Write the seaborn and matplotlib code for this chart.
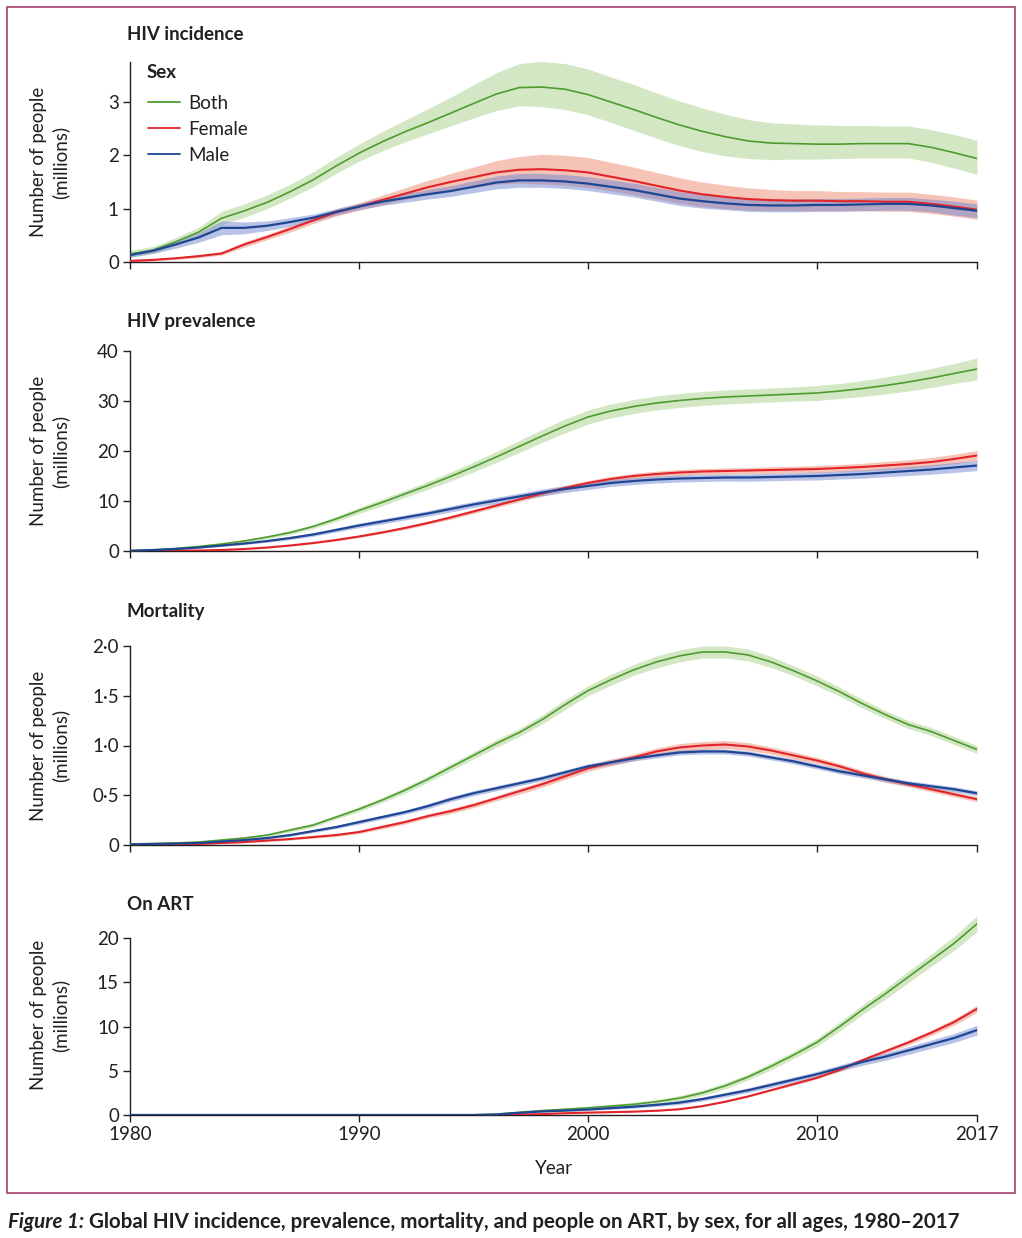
import matplotlib
matplotlib.use("Agg")
import matplotlib.pyplot as plt
import seaborn as sns
from matplotlib.ticker import FuncFormatter, FixedLocator
from matplotlib.patches import Rectangle

# ---------------- data (millions) ----------------
years = list(range(1980, 2018))

# HIV incidence
inc_both = [0.15, 0.22, 0.38, 0.56, 0.82, 0.96, 1.12, 1.32, 1.54, 1.80,
            2.04, 2.25, 2.44, 2.61, 2.79, 2.97, 3.15, 3.27, 3.28, 3.24,
            3.14, 3.00, 2.86, 2.71, 2.57, 2.45, 2.35, 2.27, 2.23, 2.22,
            2.21, 2.21, 2.22, 2.22, 2.22, 2.15, 2.05, 1.94]
inc_both_up = [0.07, 0.07, 0.08, 0.09, 0.13, 0.13, 0.14, 0.14, 0.15, 0.16,
               0.17, 0.19, 0.22, 0.26, 0.30, 0.35, 0.40, 0.45, 0.48, 0.48,
               0.48, 0.47, 0.47, 0.46, 0.45, 0.44, 0.42, 0.40, 0.38, 0.37,
               0.36, 0.35, 0.34, 0.33, 0.33, 0.33, 0.34, 0.34]
inc_both_dn = [0.06, 0.06, 0.07, 0.08, 0.12, 0.12, 0.12, 0.12, 0.13, 0.14,
               0.15, 0.17, 0.19, 0.21, 0.24, 0.27, 0.31, 0.34, 0.37, 0.38,
               0.38, 0.38, 0.39, 0.39, 0.39, 0.38, 0.36, 0.33, 0.31, 0.29,
               0.28, 0.27, 0.27, 0.27, 0.27, 0.28, 0.29, 0.30]
inc_female = [0.02, 0.04, 0.07, 0.11, 0.16, 0.33, 0.47, 0.62, 0.78, 0.93,
              1.04, 1.16, 1.28, 1.40, 1.50, 1.59, 1.68, 1.73, 1.74, 1.72,
              1.68, 1.60, 1.52, 1.43, 1.34, 1.27, 1.22, 1.18, 1.16, 1.15,
              1.15, 1.14, 1.14, 1.13, 1.13, 1.09, 1.04, 0.98]
inc_female_err = [0.02, 0.02, 0.02, 0.03, 0.03, 0.05, 0.05, 0.06, 0.06, 0.07,
                  0.07, 0.09, 0.11, 0.13, 0.16, 0.19, 0.22, 0.25, 0.28, 0.28,
                  0.28, 0.27, 0.26, 0.25, 0.24, 0.23, 0.22, 0.21, 0.20, 0.19,
                  0.19, 0.18, 0.18, 0.18, 0.18, 0.18, 0.18, 0.18]
inc_male = [0.13, 0.21, 0.33, 0.46, 0.64, 0.64, 0.68, 0.75, 0.83, 0.94,
            1.04, 1.13, 1.20, 1.27, 1.33, 1.41, 1.49, 1.53, 1.53, 1.51,
            1.47, 1.41, 1.35, 1.27, 1.19, 1.14, 1.10, 1.07, 1.06, 1.06,
            1.07, 1.07, 1.08, 1.09, 1.09, 1.06, 1.01, 0.96]
inc_male_err = [0.04, 0.05, 0.07, 0.09, 0.13, 0.11, 0.09, 0.08, 0.07, 0.06,
                0.06, 0.07, 0.08, 0.09, 0.10, 0.11, 0.12, 0.13, 0.13, 0.13,
                0.13, 0.13, 0.13, 0.13, 0.13, 0.13, 0.12, 0.12, 0.12, 0.12,
                0.12, 0.12, 0.12, 0.12, 0.12, 0.12, 0.13, 0.13]

# HIV prevalence
prev_both = [0.05, 0.2, 0.5, 0.9, 1.4, 2.0, 2.8, 3.7, 4.9, 6.4,
             8.1, 9.7, 11.4, 13.1, 14.9, 16.8, 18.8, 20.9, 23.0, 25.0,
             26.8, 28.0, 28.9, 29.6, 30.1, 30.5, 30.8, 31.0, 31.2, 31.4,
             31.6, 32.0, 32.5, 33.1, 33.8, 34.6, 35.5, 36.4]
prev_both_err = [0.05, 0.1, 0.1, 0.2, 0.2, 0.3, 0.3, 0.4, 0.4, 0.5,
                 0.6, 0.7, 0.7, 0.8, 0.9, 1.0, 1.1, 1.2, 1.3, 1.4,
                 1.4, 1.4, 1.4, 1.4, 1.4, 1.4, 1.4, 1.4, 1.4, 1.4,
                 1.5, 1.5, 1.6, 1.7, 1.8, 1.9, 2.0, 2.2]
prev_female = [0.0, 0.02, 0.05, 0.1, 0.2, 0.4, 0.7, 1.1, 1.6, 2.2,
               2.9, 3.7, 4.6, 5.6, 6.7, 7.9, 9.1, 10.3, 11.5, 12.6,
               13.6, 14.4, 15.0, 15.4, 15.7, 15.9, 16.0, 16.1, 16.2, 16.3,
               16.4, 16.6, 16.8, 17.1, 17.4, 17.8, 18.4, 19.1]
prev_female_err = [0.0, 0.02, 0.03, 0.05, 0.05, 0.1, 0.1, 0.1, 0.15, 0.2,
                   0.2, 0.25, 0.3, 0.3, 0.35, 0.4, 0.4, 0.45, 0.5, 0.5,
                   0.5, 0.5, 0.55, 0.55, 0.6, 0.6, 0.6, 0.6, 0.65, 0.65,
                   0.7, 0.7, 0.75, 0.8, 0.85, 0.9, 0.95, 1.0]
prev_male = [0.05, 0.2, 0.4, 0.7, 1.1, 1.5, 2.0, 2.6, 3.3, 4.2,
             5.1, 5.9, 6.7, 7.5, 8.4, 9.3, 10.1, 10.9, 11.7, 12.4,
             13.0, 13.6, 14.0, 14.3, 14.5, 14.6, 14.7, 14.7, 14.8, 14.9,
             15.0, 15.2, 15.4, 15.7, 16.0, 16.3, 16.7, 17.1]
prev_male_err = [0.05, 0.1, 0.1, 0.15, 0.2, 0.2, 0.25, 0.3, 0.35, 0.4,
                 0.45, 0.5, 0.5, 0.55, 0.6, 0.6, 0.65, 0.65, 0.7, 0.7,
                 0.7, 0.7, 0.7, 0.7, 0.7, 0.7, 0.7, 0.75, 0.75, 0.75,
                 0.8, 0.8, 0.85, 0.85, 0.9, 0.95, 1.0, 1.0]

# Mortality
mort_both = [0.01, 0.015, 0.02, 0.03, 0.05, 0.07, 0.10, 0.15, 0.20, 0.28,
             0.36, 0.45, 0.55, 0.66, 0.78, 0.90, 1.02, 1.13, 1.26, 1.41,
             1.55, 1.66, 1.76, 1.84, 1.90, 1.94, 1.94, 1.91, 1.84, 1.75,
             1.65, 1.54, 1.42, 1.31, 1.21, 1.14, 1.05, 0.96]
mort_both_err = [0.005, 0.005, 0.01, 0.01, 0.01, 0.015, 0.015, 0.02, 0.02, 0.02,
                 0.025, 0.025, 0.03, 0.03, 0.035, 0.035, 0.04, 0.04, 0.045, 0.05,
                 0.05, 0.055, 0.055, 0.06, 0.06, 0.06, 0.06, 0.06, 0.055, 0.05,
                 0.05, 0.045, 0.045, 0.04, 0.04, 0.04, 0.04, 0.04]
mort_female = [0.0, 0.003, 0.006, 0.01, 0.02, 0.03, 0.045, 0.06, 0.08, 0.10,
               0.13, 0.18, 0.23, 0.29, 0.34, 0.40, 0.47, 0.54, 0.61, 0.69,
               0.77, 0.83, 0.88, 0.94, 0.98, 1.00, 1.01, 0.99, 0.95, 0.90,
               0.85, 0.79, 0.72, 0.66, 0.61, 0.56, 0.51, 0.46]
mort_female_err = [0.0, 0.002, 0.003, 0.005, 0.005, 0.008, 0.01, 0.01, 0.012, 0.015,
                   0.015, 0.02, 0.02, 0.02, 0.025, 0.025, 0.025, 0.03, 0.03, 0.03,
                   0.03, 0.035, 0.035, 0.035, 0.04, 0.04, 0.04, 0.04, 0.035, 0.035,
                   0.03, 0.03, 0.03, 0.03, 0.025, 0.025, 0.025, 0.025]
mort_male = [0.005, 0.01, 0.015, 0.02, 0.035, 0.05, 0.07, 0.10, 0.14, 0.18,
             0.23, 0.28, 0.33, 0.39, 0.46, 0.52, 0.57, 0.62, 0.67, 0.73,
             0.79, 0.83, 0.87, 0.90, 0.93, 0.94, 0.94, 0.92, 0.88, 0.84,
             0.79, 0.74, 0.70, 0.66, 0.62, 0.59, 0.56, 0.52]
mort_male_err = [0.002, 0.003, 0.004, 0.005, 0.006, 0.008, 0.01, 0.012, 0.015, 0.015,
                 0.02, 0.02, 0.02, 0.025, 0.025, 0.025, 0.025, 0.025, 0.025, 0.025,
                 0.025, 0.025, 0.025, 0.025, 0.025, 0.025, 0.025, 0.025, 0.025, 0.025,
                 0.025, 0.025, 0.025, 0.025, 0.025, 0.025, 0.025, 0.025]

# On ART
art_both = [0.0, 0.0, 0.0, 0.0, 0.0, 0.0, 0.0, 0.0, 0.0, 0.0,
            0.0, 0.0, 0.0, 0.0, 0.0, 0.02, 0.1, 0.3, 0.5, 0.65,
            0.8, 1.0, 1.2, 1.5, 1.9, 2.5, 3.3, 4.3, 5.5, 6.8,
            8.2, 10.0, 11.9, 13.7, 15.6, 17.5, 19.4, 21.6]
art_both_err = [0.0, 0.0, 0.0, 0.0, 0.0, 0.0, 0.0, 0.0, 0.0, 0.0,
                0.0, 0.0, 0.0, 0.0, 0.0, 0.02, 0.05, 0.1, 0.1, 0.15,
                0.2, 0.2, 0.25, 0.25, 0.3, 0.3, 0.35, 0.35, 0.4, 0.4,
                0.45, 0.5, 0.55, 0.6, 0.65, 0.7, 0.8, 0.9]
art_female = [0.0, 0.0, 0.0, 0.0, 0.0, 0.0, 0.0, 0.0, 0.0, 0.0,
              0.0, 0.0, 0.0, 0.0, 0.0, 0.0, 0.0, 0.05, 0.1, 0.2,
              0.27, 0.32, 0.38, 0.48, 0.65, 1.0, 1.5, 2.1, 2.8, 3.5,
              4.2, 5.1, 6.2, 7.2, 8.2, 9.3, 10.5, 12.0]
art_female_err = [0.0, 0.0, 0.0, 0.0, 0.0, 0.0, 0.0, 0.0, 0.0, 0.0,
                  0.0, 0.0, 0.0, 0.0, 0.0, 0.0, 0.0, 0.01, 0.02, 0.03,
                  0.03, 0.04, 0.04, 0.05, 0.05, 0.06, 0.07, 0.08, 0.1, 0.12,
                  0.14, 0.17, 0.2, 0.23, 0.27, 0.31, 0.35, 0.4]
art_male = [0.0, 0.0, 0.0, 0.0, 0.0, 0.0, 0.0, 0.0, 0.0, 0.0,
            0.0, 0.0, 0.0, 0.0, 0.0, 0.0, 0.05, 0.25, 0.4, 0.5,
            0.62, 0.78, 0.94, 1.15, 1.4, 1.8, 2.3, 2.8, 3.4, 4.0,
            4.6, 5.3, 6.0, 6.6, 7.3, 8.0, 8.7, 9.6]
art_male_err = [0.0, 0.0, 0.0, 0.0, 0.0, 0.0, 0.0, 0.0, 0.0, 0.0,
                0.0, 0.0, 0.0, 0.0, 0.0, 0.0, 0.02, 0.05, 0.08, 0.1,
                0.12, 0.14, 0.16, 0.18, 0.2, 0.22, 0.24, 0.26, 0.28, 0.3,
                0.32, 0.35, 0.38, 0.41, 0.44, 0.47, 0.5, 0.55]

sex_labels = ["Both", "Female", "Male"]
legend_title = "Sex"
panel_titles = ["HIV incidence", "HIV prevalence", "Mortality", "On ART"]
x_ticks = [1980, 1990, 2000, 2010, 2017]
y_ticks = [[0, 1, 2, 3], [0, 10, 20, 30, 40], [0, 0.5, 1.0, 1.5, 2.0], [0, 5, 10, 15, 20]]

# ---------------- style ----------------
sns.set_theme(style="ticks")
plt.rcParams["font.family"] = ["Lato", "DejaVu Sans"]
TXT = "#231f20"
plt.rcParams.update({
    "text.color": TXT, "axes.labelcolor": TXT,
    "xtick.color": TXT, "ytick.color": TXT,
    "axes.edgecolor": TXT,
})

line_cols = ["#4e9c2f", "#e2232a", "#1e4692"]
band_cols = ["#a8d08a", "#f0947a", "#7486d0"]
band_alpha = [0.5, 0.55, 0.5]
line_w = [1.2, 1.5, 1.6]
FS = 13.5

FW, FH = 1022, 1238
fig = plt.figure(figsize=(FW / 100, FH / 100), dpi=100)

left = 130 / FW
width = (977 - 130) / FW
panels_px = [(262, 200), (551, 200), (845, 199), (1115, 200)]  # bottom px, height px
ylims = [(0, 3.75), (0, 40), (0, 2.0), (0, 22.6)]
title_px = [34, 321, 612, 904]

data = [
    [(inc_both, inc_both_dn, inc_both_up), (inc_female, inc_female_err, inc_female_err),
     (inc_male, inc_male_err, inc_male_err)],
    [(prev_both, prev_both_err, prev_both_err), (prev_female, prev_female_err, prev_female_err),
     (prev_male, prev_male_err, prev_male_err)],
    [(mort_both, mort_both_err, mort_both_err), (mort_female, mort_female_err, mort_female_err),
     (mort_male, mort_male_err, mort_male_err)],
    [(art_both, art_both_err, art_both_err), (art_female, art_female_err, art_female_err),
     (art_male, art_male_err, art_male_err)],
]


def fmt_dot(v, pos):
    if v == 0:
        return "0"
    return f"{v:.1f}".replace(".", "\u00b7")


axes = []
for i, (bpx, hpx) in enumerate(panels_px):
    ax = fig.add_axes([left, 1 - bpx / FH, width, hpx / FH])
    axes.append(ax)
    for k, (mean, dn, up) in enumerate(data[i]):
        lo = [m - d for m, d in zip(mean, dn)]
        hi = [m + u for m, u in zip(mean, up)]
        ax.fill_between(years, lo, hi, color=band_cols[k], alpha=band_alpha[k], lw=0, zorder=1 + k)
    for k, (mean, dn, up) in enumerate(data[i]):
        sns.lineplot(x=years, y=mean, ax=ax, color=line_cols[k], lw=line_w[k],
                     label=sex_labels[k] if i == 0 else None, legend=False, zorder=5 + k)
    ax.set_xlim(1980, 2017)
    ax.set_ylim(*ylims[i])
    ax.xaxis.set_major_locator(FixedLocator(x_ticks))
    ax.yaxis.set_major_locator(FixedLocator(y_ticks[i]))
    if i == 2:
        ax.yaxis.set_major_formatter(FuncFormatter(fmt_dot))
    else:
        ax.yaxis.set_major_formatter(FuncFormatter(lambda v, p: f"{v:g}"))
    if i == 3:
        ax.spines["left"].set_bounds(0, 20)
        ax.set_xlabel("Year", fontsize=FS, labelpad=12)
    else:
        ax.set_xticklabels([])
        ax.set_xlabel("")
    for s in ["top", "right"]:
        ax.spines[s].set_visible(False)
    for s in ["left", "bottom"]:
        ax.spines[s].set_linewidth(1.0)
    ax.tick_params(axis="both", direction="out", length=5, width=1.0, labelsize=FS, pad=3)
    ax.set_ylabel("Number of people\n(millions)", fontsize=FS, linespacing=1.3)
    ax.yaxis.label.set_verticalalignment("center")
    ax.yaxis.set_label_coords((50 - 130) / 847, 0.5)
    fig.text(127 / FW, 1 - title_px[i] / FH, panel_titles[i],
             fontsize=13.5, fontweight="bold", va="center", ha="left")

# legend (title drawn separately for spacing control)
fig.text(147 / FW, 1 - 72 / FH, legend_title, fontsize=FS, fontweight="bold",
         va="center", ha="left")
leg = axes[0].legend(loc="upper left", bbox_to_anchor=(0.021, 0.837),
                     frameon=False, fontsize=FS,
                     handlelength=1.7, handletextpad=0.45, labelspacing=0.48,
                     borderpad=0, borderaxespad=0)
for h in leg.legend_handles:
    h.set_linewidth(1.3)

# border frame
fig.add_artist(Rectangle((7 / FW, 1 - 1193 / FH), (1015 - 7) / FW, (1193 - 7) / FH,
                         transform=fig.transFigure, fill=False, edgecolor="#a3406d", lw=1.2))

# caption
cap_y = 1 - 1222 / FH
CFS = 14.8
t1 = fig.text(8 / FW, cap_y, "Figure 1:", fontsize=CFS, fontweight="bold", fontstyle="italic",
              va="center", ha="left")
fig.canvas.draw()
bb = t1.get_window_extent(renderer=fig.canvas.get_renderer())
fig.text(bb.x1 / FW + 5 / FW, cap_y,
         "Global HIV incidence, prevalence, mortality, and people on ART, by sex, for all ages, 1980\u20132017",
         fontsize=CFS, fontweight="bold", va="center", ha="left")

fig.savefig("out.png", dpi=100)
